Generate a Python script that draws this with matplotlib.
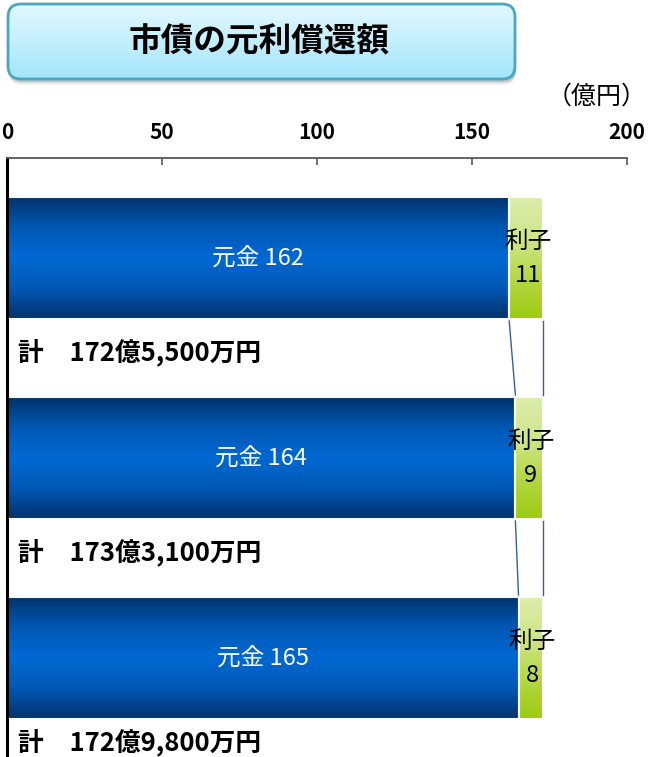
import numpy as np
import matplotlib
matplotlib.use('Agg')
import matplotlib.pyplot as plt
from matplotlib.colors import LinearSegmentedColormap
from matplotlib.patches import FancyBboxPatch

plt.rcParams['font.family'] = ['Noto Sans CJK JP', 'DejaVu Sans']

# redemption of municipal bonds (100 million yen)
principal = [162, 164, 165]
interest = [11, 9, 8]
totals = ['計\u3000172億5,500万円', '計\u3000173億3,100万円', '計\u3000172億9,800万円']
total_y = [0.47, 1.47, 2.42]
xticks = [0, 50, 100, 150, 200]

W, H = 649, 757
fig = plt.figure(figsize=(W / 100, H / 100), dpi=100)
fig.patch.set_facecolor('white')

# overlay in pixel coords for the title box and unit label
ov = fig.add_axes([0, 0, 1, 1])
ov.set_xlim(0, W)
ov.set_ylim(H, 0)
ov.axis('off')

bx, by, bw, bh, rad = 8, 4, 507, 75, 13
for k, a in [(6, 0.05), (4.5, 0.08), (3, 0.12)]:
    sh = FancyBboxPatch((bx + 1, by + k), bw, bh, boxstyle=f'round,pad=0,rounding_size={rad}',
                        fc='black', ec='none', alpha=a)
    ov.add_patch(sh)
box = FancyBboxPatch((bx, by), bw, bh, boxstyle=f'round,pad=0,rounding_size={rad}',
                     fc='none', ec='#4aa6c2', lw=2, zorder=3)
ov.add_patch(box)
cm_title = LinearSegmentedColormap.from_list('t', ['#e2f8ff', '#c4effd', '#a2e5fb'])
grad = np.linspace(0, 1, 100).reshape(-1, 1)
img = ov.imshow(grad, cmap=cm_title, extent=(bx, bx + bw, by + bh, by), aspect='auto', zorder=2)
img.set_clip_path(box)
ov.set_xlim(0, W)
ov.set_ylim(H, 0)
ov.text(bx + bw / 2 - 2, by + bh / 2, '市債の元利償還額', fontsize=23.5, fontweight='bold',
        ha='center', va='center', zorder=4)
ov.text(597, 97, '（億円）', fontsize=18, ha='center', va='center')

# bar chart
ax = fig.add_axes([7 / W, 0, 620 / W, (H - 158) / H])
ax.patch.set_alpha(0)
ys = np.arange(len(principal))
h = 0.61

cm_blue = LinearSegmentedColormap.from_list('b', ['#00336b', '#0058b4', '#0068d2', '#0058b4', '#00336b'])
cm_green = LinearSegmentedColormap.from_list('g', ['#dcedaa', '#cfe68c', '#b4d846', '#9ccb10'])

for y, p, i in zip(ys, principal, interest):
    ax.imshow(grad, cmap=cm_blue, extent=(0, p, y + h / 2, y - h / 2), aspect='auto', zorder=1)
    ax.imshow(grad, cmap=cm_green, extent=(p, p + i, y + h / 2, y - h / 2), aspect='auto', zorder=1)

ax.barh(ys, principal, height=h, fc='none', ec='white', lw=1.5, zorder=2)
ax.barh(ys, interest, left=principal, height=h, fc='none', ec='white', lw=1.5, zorder=2)

# series lines between bars
for k in range(len(ys) - 1):
    for a, b in [(principal[k], principal[k + 1]),
                 (principal[k] + interest[k], principal[k + 1] + interest[k + 1])]:
        ax.plot([a, b], [ys[k] + h / 2 + 0.01, ys[k + 1] - h / 2 - 0.01], color='#3a5f96', lw=1, zorder=2)

for y, p, i, t, ty in zip(ys, principal, interest, totals, total_y):
    ax.text(p / 2, y, f'元金 {p}', color='white', fontsize=17, ha='center', va='center', zorder=3)
    ax.text(p + i / 2 + 0.5, y - 0.085, '利子', fontsize=17, ha='center', va='center', zorder=3)
    ax.text(p + i / 2 + 0.5, y + 0.085, str(i), fontsize=17, ha='center', va='center', zorder=3)
    ax.text(3.5, ty, t, fontsize=18.5, fontweight='bold', ha='left', va='center', zorder=3)

ax.set_xlim(0, 200)
ax.set_ylim(2.495, -0.5)
ax.set_xticks(xticks)
ax.xaxis.tick_top()
ax.tick_params(axis='x', direction='in', length=5, width=1.2, color='#595959',
               labelsize=15, pad=11)
for lab in ax.get_xticklabels():
    lab.set_fontweight('bold')
ax.set_yticks([])
ax.spines['top'].set_color('#595959')
ax.spines['top'].set_linewidth(1.3)
ax.spines['left'].set_color('black')
ax.spines['left'].set_linewidth(2.2)
ax.spines['right'].set_visible(False)
ax.spines['bottom'].set_visible(False)

fig.savefig('out.png', dpi=100)
